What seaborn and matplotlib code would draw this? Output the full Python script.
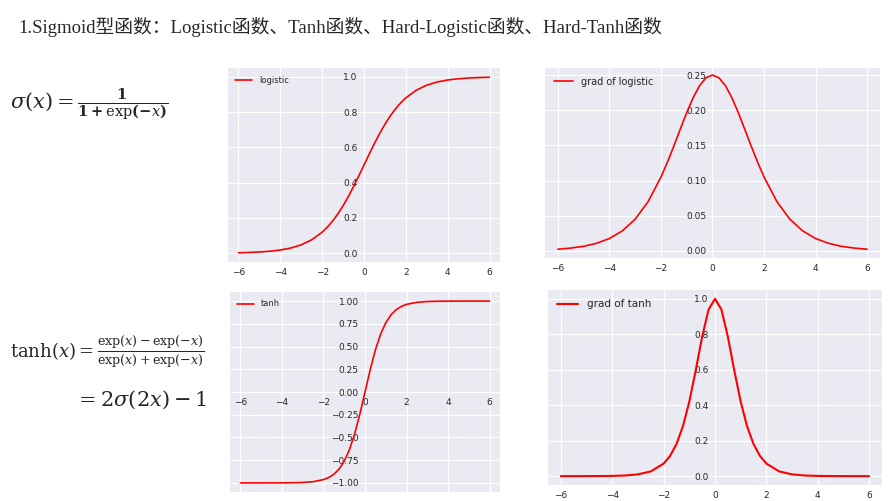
import numpy as np
import matplotlib.pyplot as plt
import seaborn as sns

xs_neg = [-6, -5.5, -5, -4.5, -4, -3.5, -3, -2.5, -2, -1.75, -1.5, -1.25, -1, -0.75, -0.5, -0.25, 0]
logistic_neg = [.0025, .0041, .0067, .0110, .0180, .0293, .0474, .0759, .1192, .1480, .1824,
                .2227, .2689, .3208, .3775, .4378, .5]
grad_logistic_neg = [.0025, .0041, .0066, .0109, .0177, .0285, .0452, .0701, .1050, .1261, .1491,
                     .1731, .1966, .2179, .2350, .2461, .25]
tanh_neg = [-1.0, -1.0, -.9999, -.9998, -.9993, -.9982, -.9951, -.9866, -.9640, -.9414, -.9051,
            -.8483, -.7616, -.6351, -.4621, -.2449, 0]
grad_tanh_neg = [0, .0001, .0002, .0005, .0013, .0036, .0099, .0266, .0707, .1137, .1807,
                 .2804, .4200, .5966, .7864, .9400, 1.0]

xs = np.array(xs_neg + [-v for v in xs_neg[-2::-1]])
logistic = np.array(logistic_neg + [1 - v for v in logistic_neg[-2::-1]])
grad_logistic = np.array(grad_logistic_neg + grad_logistic_neg[-2::-1])
tanh = np.array(tanh_neg + [-v for v in tanh_neg[-2::-1]])
grad_tanh = np.array(grad_tanh_neg + grad_tanh_neg[-2::-1])

sns.set_style('darkgrid')
plt.rcParams['font.family'] = ['Liberation Serif', 'Noto Sans CJK SC']
plt.rcParams['mathtext.fontset'] = 'dejavuserif'

fig = plt.figure(figsize=(8.95, 5.01), dpi=100)
W, H = 895, 501

fig.text(18 / W, 1 - 27 / H, '1.Sigmoid型函数：Logistic函数、Tanh函数、Hard-Logistic函数、Hard-Tanh函数',
         fontsize=13.5, va='center')
fig.text(10 / W, 1 - 105 / H, r'$\sigma(x)=\frac{\mathbf{1}}{\mathbf{1+\exp(-}x\mathbf{)}}$',
         fontsize=15, va='center')
fig.text(10 / W, 1 - 352 / H, r'$\mathrm{tanh}(x)=\frac{\exp(x)-\exp(-x)}{\exp(x)+\exp(-x)}$',
         fontsize=13, va='center')
fig.text(75 / W, 1 - 400 / H, r'$=2\sigma(2x)-1$', fontsize=15, va='center')


def panel(box, y, label, ymid=False, lw=1.2, leg=6):
    l, t, r, b = box
    ax = fig.add_axes([l / W, 1 - b / H, (r - l) / W, (b - t) / H])
    sns.lineplot(x=xs, y=y, ax=ax, color='red', lw=lw, label=label)
    ax.spines['left'].set_position(('data', 0))
    if ymid:
        ax.spines['bottom'].set_position(('data', 0))
    for s in ax.spines.values():
        s.set_visible(False)
    ax.set_xticks([-6, -4, -2, 0, 2, 4, 6])
    ax.tick_params(labelsize=6.5, pad=1)
    for lab in ax.get_xticklabels() + ax.get_yticklabels():
        lab.set_family('DejaVu Sans')
    ax.legend(loc='upper left', frameon=False, prop={'family': 'DejaVu Sans', 'size': leg})
    return ax


a = panel((228, 68, 500, 262), logistic, 'logistic')
a.set_xlim(-6.5, 6.5); a.set_ylim(-0.05, 1.05)
a = panel((545, 68, 880, 258), grad_logistic, 'grad of logistic', leg=7)
a.set_xlim(-6.5, 6.5); a.set_ylim(-0.01, 0.26)
a = panel((230, 292, 500, 492), tanh, 'tanh', ymid=True)
a.set_xlim(-6.5, 6.5); a.set_ylim(-1.1, 1.1)
a.set_yticks([-1, -0.75, -0.5, -0.25, 0, 0.25, 0.5, 0.75, 1])
a = panel((548, 290, 882, 485), grad_tanh, 'grad of tanh', lw=1.5, leg=7.5)
a.set_xlim(-6.5, 6.5); a.set_ylim(-0.05, 1.05)

fig.savefig('out.png', dpi=100)
